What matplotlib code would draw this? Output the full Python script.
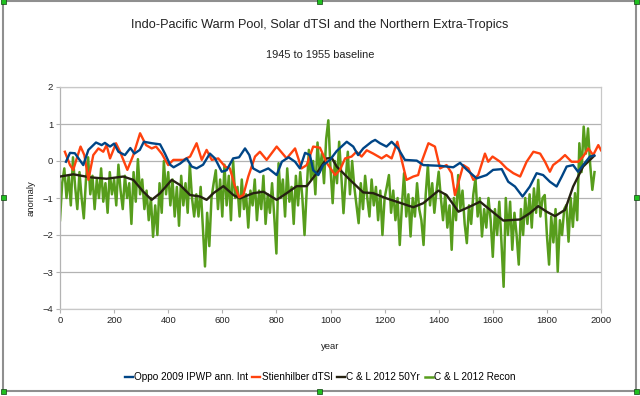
import numpy as np
import matplotlib
matplotlib.use("Agg")
import matplotlib.pyplot as plt
from matplotlib.patches import Rectangle

plt.rcParams['font.family'] = ['Liberation Sans', 'DejaVu Sans']

# Oppo 2009 IPWP ann. Int
oppo_year = [22, 37, 55, 86, 105, 133, 154, 166, 185, 200, 216, 240, 260, 275, 295,
             310, 340, 370, 388, 407, 420, 444, 468, 487, 505, 529, 554, 573, 598,
             616, 640, 662, 684, 700, 714, 739, 770, 801, 820, 845, 869, 887, 906,
             924, 936, 955, 973, 998, 1023, 1060, 1084, 1102, 1121, 1152, 1165,
             1183, 1207, 1226, 1250, 1275, 1319, 1343, 1405, 1454, 1479, 1503, 1540,
             1577, 1601, 1633, 1657, 1682, 1710, 1737, 1762, 1786, 1811, 1836, 1855,
             1873, 1897, 1915, 1934, 1959, 1975]
oppo_val = [-0.02, 0.22, 0.21, -0.11, 0.3, 0.5, 0.43, 0.49, 0.39, 0.47, 0.25, 0.16,
            0.35, 0.2, 0.3, 0.52, 0.48, 0.45, 0.2, -0.1, -0.17, -0.07, 0.07, -0.15,
            -0.2, -0.1, 0.2, 0.07, -0.29, -0.25, 0.07, 0.1, 0.34, 0.16, -0.2, -0.3,
            -0.2, -0.38, -0.02, 0.1, -0.02, -0.2, 0.22, 0.16, -0.25, -0.38, -0.11,
            0.03, 0.27, 0.52, 0.39, 0.16, 0.34, 0.52, 0.57, 0.48, 0.39, 0.52, 0.34,
            0.03, 0.01, -0.11, -0.13, -0.17, -0.05, -0.23, -0.47, -0.38, -0.24,
            -0.22, -0.56, -0.69, -0.96, -0.69, -0.33, -0.38, -0.56, -0.69, -0.42,
            -0.15, -0.11, -0.29, -0.11, 0.12, 0.15]

# Stienhilber dTSI
tsi_year = [18, 37, 49, 62, 76, 90, 105, 123, 142, 160, 172, 185, 207, 222, 249,
            271, 296, 318, 339, 355, 376, 400, 419, 456, 481, 505, 524, 542, 561,
            585, 610, 628, 647, 662, 678, 696, 721, 739, 764, 801, 838, 869, 893,
            912, 936, 961, 986, 1017, 1035, 1054, 1078, 1096, 1115, 1134, 1158,
            1189, 1207, 1226, 1247, 1263, 1281, 1306, 1324, 1337, 1362, 1386, 1405,
            1429, 1448, 1460, 1479, 1491, 1510, 1528, 1546, 1571, 1583, 1599, 1627,
            1651, 1676, 1701, 1725, 1750, 1775, 1793, 1811, 1823, 1848, 1867, 1891,
            1916, 1934, 1953, 1971, 1990, 2000]
tsi_val = [0.25, -0.11, -0.24, 0.07, 0.39, 0.16, -0.51, 0.16, 0.34, 0.25, 0.43,
           0.07, 0.48, 0.25, -0.24, 0.16, 0.75, 0.43, 0.34, 0.39, 0.2, -0.11, 0.03,
           0.03, 0.12, 0.48, 0.03, 0.3, 0.03, 0.07, -0.15, -0.2, -0.69, -0.98,
           -0.92, -0.42, 0.12, 0.25, 0.03, 0.39, 0.07, 0.34, -0.2, -0.11, 0.39,
           0.36, -0.05, -0.38, -0.24, 0.07, 0.12, 0.25, 0.12, 0.29, 0.2, 0.07, 0.16,
           0.07, 0.52, 0.03, -0.51, -0.42, -0.38, -0.02, 0.48, 0.39, -0.2, -0.11,
           -0.33, -0.92, -0.42, -0.11, -0.2, -0.51, -0.38, 0.2, -0.02, 0.12, -0.02,
           -0.2, -0.33, -0.42, -0.02, 0.25, 0.2, -0.02, -0.29, -0.11, 0.03, 0.16,
           -0.02, -0.02, 0.12, 0.34, 0.16, 0.43, 0.29]

# C & L 2012 50Yr
cl50_year = [0, 49, 111, 172, 234, 271, 308, 339, 370, 413, 444, 481, 518, 542, 567,
             604, 641, 665, 715, 752, 801, 838, 875, 912, 949, 986, 1005, 1023,
             1072, 1121, 1158, 1207, 1257, 1306, 1343, 1399, 1429, 1473, 1516, 1553,
             1590, 1639, 1701, 1737, 1768, 1799, 1830, 1867, 1897, 1934, 1975]
cl50_val = [-0.42, -0.36, -0.44, -0.48, -0.42, -0.51, -0.83, -1.05, -0.87, -0.51,
            -0.65, -0.92, -0.96, -1.05, -0.87, -0.68, -0.92, -1.01, -0.87, -0.83,
            -1.05, -0.87, -0.68, -0.68, -0.33, 0.07, 0.08, -0.15, -0.51, -0.85,
            -0.87, -1.01, -1.13, -1.25, -1.14, -0.8, -0.92, -1.37, -1.23, -1.1,
            -1.32, -1.61, -1.58, -1.41, -1.22, -1.37, -1.49, -1.32, -0.69, -0.15,
            0.14]

# C & L 2012 Recon, read every 8 years from year 0
recon_val = [
    -1.6, -0.6, -0.2, -1.0, -0.4, -1.2, 0.1, -0.7, -1.3, -0.3, -1.0, -1.55, -0.5,
    0.1, -0.9, -0.4, -1.3, -0.5, -1.0, -0.2, -1.1, -0.6, -1.4, -0.3, -0.9, -0.5,
    -1.2, -0.1, -0.8, -1.3, -0.4, -1.0, -0.6, -1.7, -0.3, -1.1, 0.05, -0.9,
    -0.5, -1.3, -0.8, -1.6, -1.0, -2.05, -1.2, -2.0, -0.6, -1.4, 0.0, -0.9, -0.3,
    -1.2, -0.5, -1.5, -0.7, -1.75, -0.4, -1.2, -0.6, -1.4, -0.1, -1.0, -1.5,
    -0.9, -1.5, -0.7, -1.8, -2.85, -1.4, -2.3, -1.0, -0.6, -0.25, -1.3, -0.5, -1.5,
    -0.1, -1.2, -0.4, -1.6, 0.0, -1.0, -0.7, -1.5, -0.5, -1.3, -0.9, -1.8, -0.8,
    -1.2, -0.5, -1.6, -0.8, -1.3, -0.4, -1.7, -0.9, -1.4, -0.6, -1.5, -2.5,
    -0.06, -1.0, -0.5, -1.5, -0.2, -1.1, -0.7, -1.7, -0.4, -1.2, -0.3, -1.0, -2.0,
    -0.8, 0.3, -0.5, 0.0, -0.9, 0.5, -0.3, 0.2, -0.6, 0.6, 1.1, -0.2,
    -1.14, 0.0, -0.6, 0.52, -0.4, -1.41, -0.5, 0.25, -0.9, 0.0, -0.7, -1.2,
    -1.68, -0.6, -1.3, -0.4, -1.0, -1.5, -0.5, -1.2, -0.7, -1.6, -0.8, -2.0, -1.0,
    -0.7, -0.38, -1.4, -0.8, -1.6, -1.0, -2.27, -1.2, -0.33, -1.5, -0.9, -2.04,
    -1.0, -1.5, -0.6, -1.3, -1.6, -2.27, -0.9, -0.11, -1.2, -0.6, -1.4, -0.8, -0.29,
    -1.0, -1.6, -0.9, -1.8, -1.2, -2.4, -1.0, -1.6, -0.38, -1.3, -0.8, -1.7,
    -2.22, -1.2, -1.7, -0.9, -0.47, -1.5, -1.0, -2.04, -1.3, -1.8, -1.0, -1.6, -2.59,
    -1.3, -2.0, -1.1, -2.2, -3.4, -1.0, -2.0, -1.1, -2.4, -1.4, -2.0, -2.8, -1.3,
    -2.0, -1.0, -1.7, -0.9, -1.8, -0.74, -1.4, -0.51, -1.5, -1.0, -0.92, -2.0,
    -2.8, -1.5, -2.2, -1.3, -2.99, -1.6, -2.0, -1.3, -1.19, -2.18, -1.0, -1.78, -0.87,
    -1.6, 0.48, -0.3, 0.93, 0.2, 0.88, -0.1, -0.78, -0.3,
]
recon_year = np.arange(len(recon_val)) * 8

fig = plt.figure(figsize=(6.4, 3.96), dpi=100)
ax = fig.add_axes([60 / 640, 1 - 309 / 396, 541 / 640, 222 / 396])

ax.plot(recon_year, recon_val, color='#579d1c', lw=1.8, zorder=2)
ax.plot(cl50_year, cl50_val, color='#262212', lw=1.7, zorder=3)
ax.plot(tsi_year, tsi_val, color='#ff420e', lw=1.7, zorder=4)
ax.plot(oppo_year, oppo_val, color='#004586', lw=1.7, zorder=5)

ax.set_xlim(0, 2000)
ax.set_ylim(-4, 2)
ax.set_xticks(range(0, 2001, 200))
ax.set_yticks(range(-4, 3))
ax.grid(axis='y', color='#b3b3b3', lw=0.9)
ax.set_axisbelow(True)
for s in ax.spines.values():
    s.set_color('#c8c8c8')
    s.set_linewidth(0.9)
ax.spines['left'].set_color('#b3b3b3')
ax.tick_params(colors='#b3b3b3', labelcolor='#222222', labelsize=6.8,
               length=3, width=0.8, pad=2)

ax.set_xlabel("year", fontsize=6.8, color='#222222', labelpad=12)
ax.set_ylabel("anomaly", fontsize=6.8, color='#222222', labelpad=5)

fig.text(0.5, 1 - 25 / 396, "Indo-Pacific Warm Pool, Solar dTSI and the Northern Extra-Tropics",
         ha='center', va='center', fontsize=9.2, color='#222222')
fig.text(0.5, 1 - 55 / 396, "1945 to 1955 baseline",
         ha='center', va='center', fontsize=7.9, color='#222222')

handles = ax.get_lines()[::-1]
labels = ["Oppo 2009 IPWP ann. Int", "Stienhilber dTSI", "C & L 2012 50Yr", "C & L 2012 Recon"]
fig.legend(handles, labels, loc='center', bbox_to_anchor=(0.5, 1 - 377 / 396), ncol=4,
           frameon=False, fontsize=7.2, handlelength=0.8, handletextpad=0.12,
           columnspacing=0.45, borderpad=0)

# chart frame with selection handles
fig.patches.append(Rectangle((3 / 640, 1 - 391 / 396), 633 / 640, 390 / 396,
                             transform=fig.transFigure, fill=False,
                             edgecolor='#8f8f8f', lw=1.5))
for hx in (3, 319, 636):
    for hy in (1, 197, 391):
        if hx == 319 and hy == 197:
            continue
        fig.patches.append(Rectangle(((hx - 2.5) / 640, 1 - (hy + 2.5) / 396), 5 / 640, 5 / 396,
                                     transform=fig.transFigure, facecolor='#20c020',
                                     edgecolor='#104010', lw=0.5, zorder=10))

fig.savefig("out.png", dpi=100)
